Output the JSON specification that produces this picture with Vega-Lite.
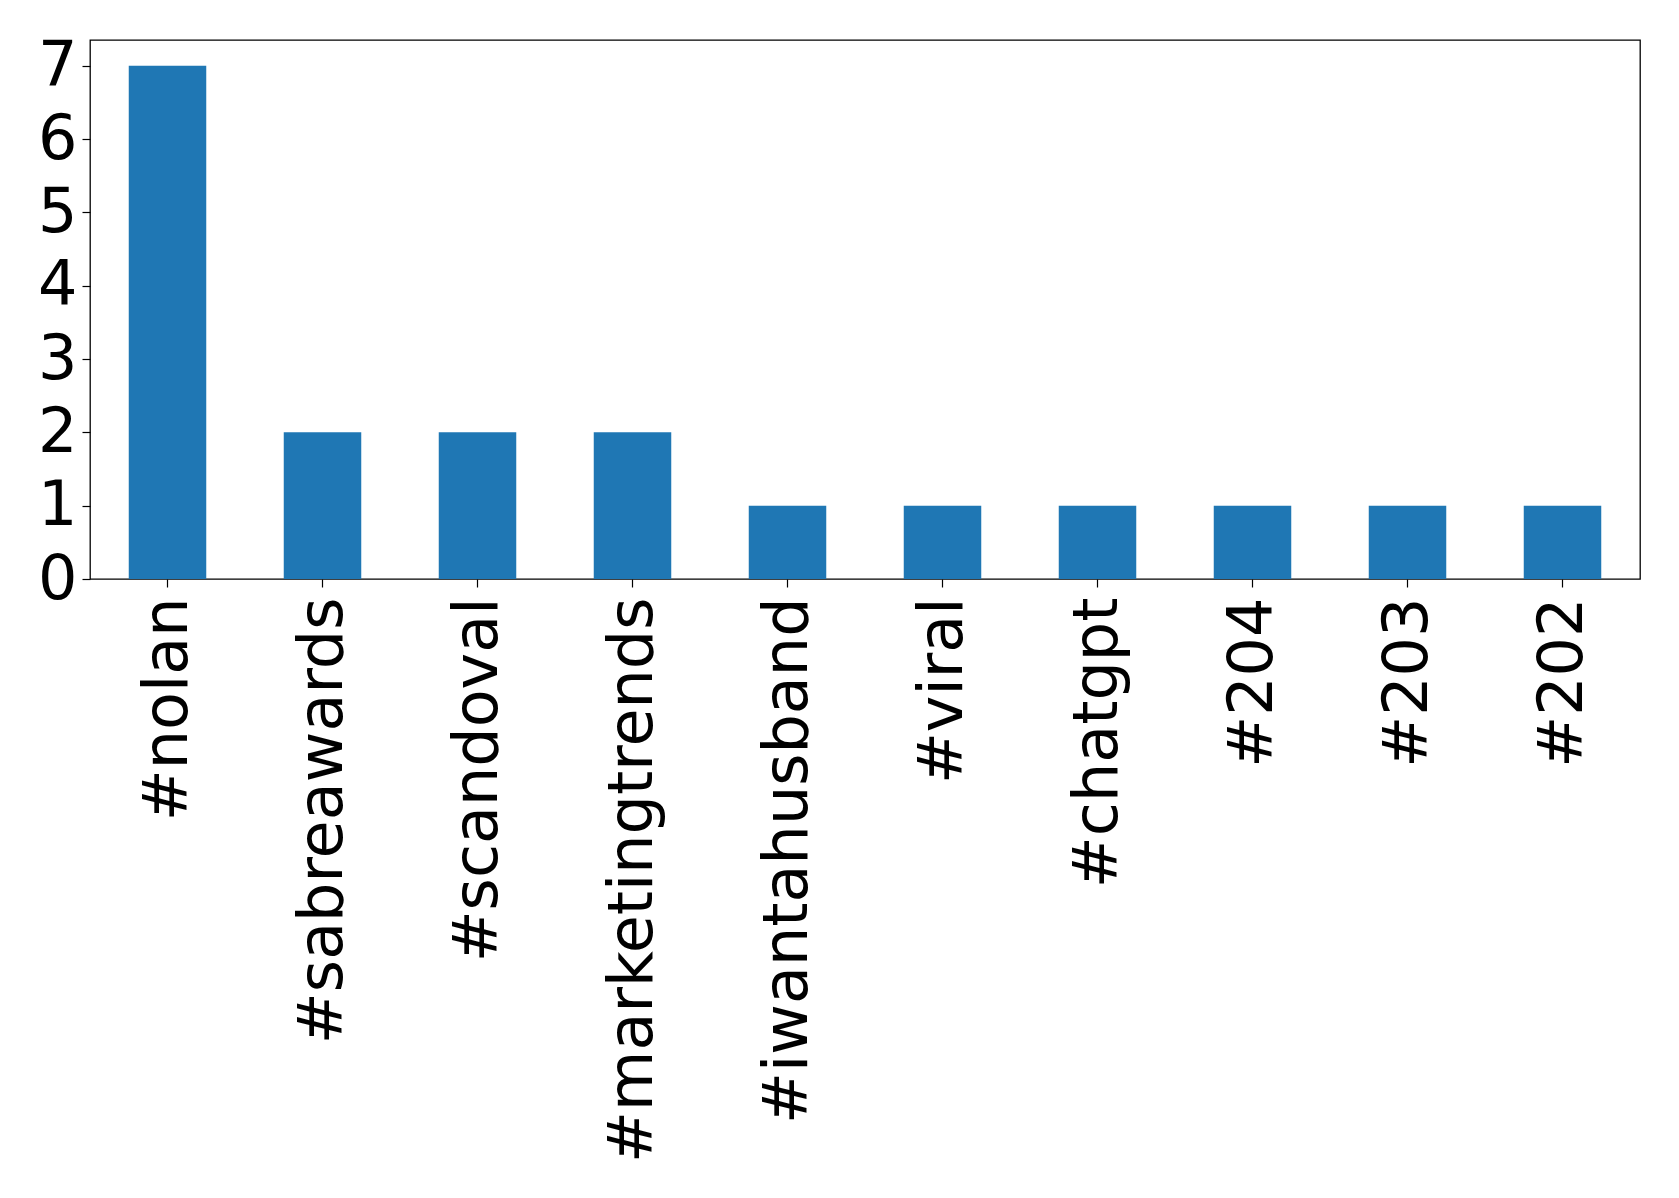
{
  "$schema": "https://vega.github.io/schema/vega-lite/v6.json",
  "autosize": {"type": "none"},
  "padding": {"left": 90, "top": 40, "right": 39, "bottom": 619},
  "width": 1550,
  "height": 539,
  "background": "white",
  "config": {
    "view": {"stroke": "#000000", "strokeWidth": 1.3},
    "font": "DejaVu Sans"
  },
  "data": {
    "values": [
      {"tag": "#nolan", "count": 7},
      {"tag": "#sabreawards", "count": 2},
      {"tag": "#scandoval", "count": 2},
      {"tag": "#marketingtrends", "count": 2},
      {"tag": "#iwantahusband", "count": 1},
      {"tag": "#viral", "count": 1},
      {"tag": "#chatgpt", "count": 1},
      {"tag": "#204", "count": 1},
      {"tag": "#203", "count": 1},
      {"tag": "#202", "count": 1}
    ]
  },
  "mark": {"type": "bar", "color": "#1f77b4"},
  "encoding": {
    "x": {
      "field": "tag",
      "type": "nominal",
      "sort": null,
      "scale": {"paddingInner": 0.5, "paddingOuter": 0.25},
      "axis": {
        "title": null,
        "domain": false,
        "labelAngle": 270,
        "labelAlign": "right",
        "labelBaseline": "middle",
        "labelFont": "DejaVu Sans",
        "labelFontSize": 62,
        "labelColor": "#000000",
        "labelPadding": 10,
        "labelLimit": 0,
        "labelOverlap": false,
        "tickColor": "#000000",
        "tickSize": 8,
        "tickWidth": 1.2,
        "grid": false
      }
    },
    "y": {
      "field": "count",
      "type": "quantitative",
      "scale": {"domain": [0, 7.35], "nice": false},
      "axis": {
        "title": null,
        "domain": false,
        "values": [0, 1, 2, 3, 4, 5, 6, 7],
        "labelFont": "DejaVu Sans",
        "labelFontSize": 62,
        "labelColor": "#000000",
        "labelPadding": 5,
        "labelBaseline": "middle",
        "labelOverlap": false,
        "tickColor": "#000000",
        "tickSize": 8,
        "tickWidth": 1.2,
        "grid": false
      }
    }
  }
}
